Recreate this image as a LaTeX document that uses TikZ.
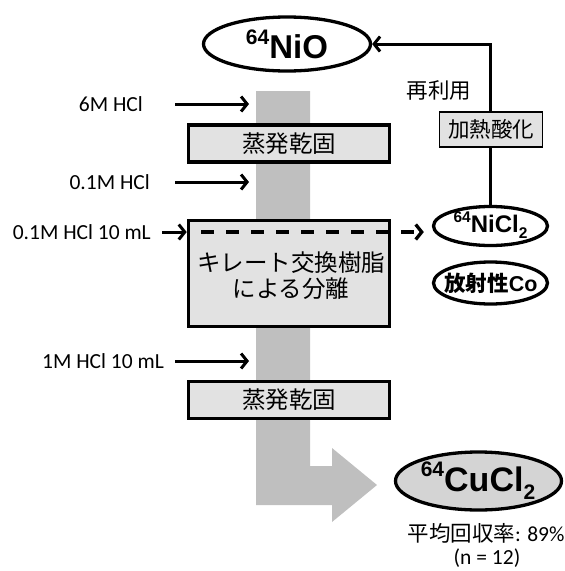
\documentclass[tikz,border=0pt]{standalone}
\usepackage{fontspec}
\setmainfont{Carlito}
\newfontfamily\jp{Noto Sans CJK JP}
\newfontfamily\ar{Liberation Sans}
\usetikzlibrary{shapes.geometric,arrows.meta}
\definecolor{colgray}{RGB}{191,191,191}
\definecolor{boxgray}{RGB}{226,226,226}
\definecolor{cugray}{RGB}{212,212,212}
\begin{document}
\begin{tikzpicture}[x=1pt,y=-1pt,
  lbl/.style={font=\fontsize{21.5}{24}\selectfont, anchor=east, inner sep=0pt},
  arr/.style={line width=3pt, -{Straight Barb[length=6pt,width=15pt]}},
  boxstyle/.style={draw, line width=3.6pt, fill=boxgray, minimum width=201pt, inner sep=0pt},
  ell/.style={draw, ellipse, line width=3.3pt, inner sep=0pt},
  jptxt/.style={font=\jp\fontsize{23.5}{27}\selectfont},
  chem/.style={font=\ar\bfseries\fontsize{33}{36}\selectfont, inner sep=0pt},
]
\useasboundingbox (0,0) rectangle (565,571);
% gray flow column with bent arrow
\fill[colgray] (256,91) -- (310,91) -- (310,466) -- (332,466) -- (332,448)
  -- (377,485) -- (332,522) -- (332,505) -- (256,505) -- cycle;

% process boxes
\node[boxstyle, minimum height=37pt, jptxt] (evap1) at (289,143.5) {蒸発乾固};
\node[boxstyle, minimum height=106pt] (resin) at (289,273.5) {};
\node[jptxt, align=center, inner sep=0pt] (resint) at (291,276) {キレート交換樹脂\\[-1pt]による分離};
\node[boxstyle, minimum height=37pt, jptxt] (evap2) at (289,400) {蒸発乾固};

% ellipses
\node[ell, minimum width=167pt, minimum height=54pt] (nio) at (287,44) {};
\node[chem] (niot) at (287,44) {\raisebox{0.42em}{\fontsize{21}{21}\selectfont 64}NiO};
\node[ell, minimum width=114pt, minimum height=39pt] (nicl) at (490.5,226) {};
\node[chem, font=\ar\bfseries\fontsize{24}{26}\selectfont] (niclt) at (490.5,225)
  {\raisebox{0.42em}{\fontsize{15.5}{15}\selectfont 64}NiCl\raisebox{-0.25em}{\fontsize{15.5}{15}\selectfont 2}};
\node[ell, minimum width=114pt, minimum height=42pt] (co) at (490.5,283) {};
\node[inner sep=0pt, font=\fontsize{21.5}{24}\selectfont] (cot) at (491,283)
  {{\jp\bfseries 放射性}{\ar\bfseries Co}};
\node[ell, fill=cugray, minimum width=166pt, minimum height=58pt] (cucl) at (478.5,481) {};
\node[chem, font=\ar\bfseries\fontsize{34}{36}\selectfont] (cuclt) at (478,481)
  {\raisebox{0.42em}{\fontsize{21}{21}\selectfont 64}CuCl\raisebox{-0.25em}{\fontsize{21}{21}\selectfont 2}};

% input labels
\node[lbl] (l6) at (143,104) {6M HCl};
\node[lbl] (l01) at (150,182) {0.1M HCl};
\node[lbl] (l01b) at (151,232) {0.1M HCl 10 mL};
\node[lbl] (l1) at (164,361) {1M HCl 10 mL};
\coordinate (a6s) at (175,104);   \coordinate (a6e) at (249,104);
\coordinate (a01s) at (175,182);  \coordinate (a01e) at (249,182);
\coordinate (a1s) at (175,361);   \coordinate (a1e) at (249,361);
\coordinate (a01bs) at (162,232);
\draw[arr] (a6s) -- (a6e);
\draw[arr] (a01s) -- (a01e);
\draw[arr] (a1s) -- (a1e);
\draw[arr] (a01bs) -- (a01bs -| resin.west);

% dashed elution line
\coordinate (dstart) at (201,232);
\draw[line width=3.3pt, dash pattern=on 13pt off 12pt, -{Straight Barb[length=6pt,width=15pt]}, shorten >=8pt]
  (dstart) -- (dstart -| nicl.west);

% recycle loop
\draw[arr] (nicl.north) |- (nio.east);
\node[font=\jp\fontsize{21.5}{24}\selectfont, inner sep=0pt] (reuse) at (439,90) {再利用};
\node[draw, line width=1.6pt, fill=boxgray, minimum width=103pt, minimum height=35pt, inner sep=0pt,
  font=\jp\fontsize{21.5}{24}\selectfont] (heat) at (491,129.5) {加熱酸化};

% yield
\node[inner sep=0pt, font=\fontsize{21.5}{24}\selectfont] (yield) at (486,533) {{\jp 平均回収率}: 89\%};
\node[inner sep=0pt, font=\fontsize{21.5}{24}\selectfont] (nn) at (487,558) {(n = 12)};
\end{tikzpicture}
\end{document}
